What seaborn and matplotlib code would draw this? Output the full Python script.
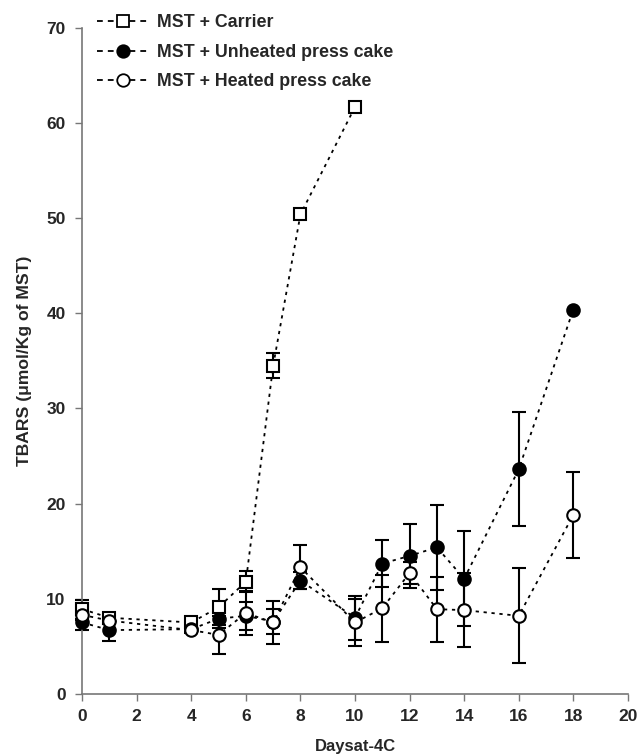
import numpy as np
import pandas as pd
import matplotlib
matplotlib.use("Agg")
import matplotlib.pyplot as plt
import seaborn as sns
from matplotlib.lines import Line2D

# ---- data ----
days_carrier = [0, 1, 4, 5, 6, 7, 8, 10]
tbars_carrier = [8.9, 8.0, 7.5, 9.1, 11.8, 34.5, 50.4, 61.7]
err_carrier = [1.0, 0.3, 0.2, 1.9, 1.1, 1.3, 0.0, 0.0]

days_cake = [0, 1, 4, 5, 6, 7, 8, 10, 11, 12, 13, 14, 16, 18]
tbars_unheated = [7.5, 6.7, 6.8, 7.9, 8.2, 7.6, 11.9, 8.0, 13.7, 14.5, 15.4, 12.1, 23.6, 40.4]
err_unheated = [0.8, 1.1, 0.3, 1.0, 1.5, 1.3, 0.9, 2.3, 2.5, 3.4, 4.5, 5.0, 6.0, 0.0]
tbars_heated = [8.3, 7.7, 6.7, 6.2, 8.5, 7.5, 13.3, 7.5, 9.0, 12.7, 8.9, 8.8, 8.2, 18.8]
err_heated = [0.5, 0.4, 0.3, 2.0, 2.3, 2.3, 2.3, 2.5, 3.5, 1.2, 3.4, 3.9, 5.0, 4.5]

labels = ["MST + Carrier", "MST + Unheated press cake", "MST + Heated press cake"]
x_ticks = list(range(0, 21, 2))
y_ticks = list(range(0, 71, 10))

sns.set_style("ticks")
plt.rcParams['font.family'] = ['Liberation Sans', 'DejaVu Sans']

fig = plt.figure(figsize=(6.42, 7.55), dpi=100)
ax = fig.add_axes([0.128, 0.081, 0.850, 0.882])

series = [
    (days_carrier, tbars_carrier, err_carrier, "s", "white"),
    (days_cake, tbars_unheated, err_unheated, "o", "black"),
    (days_cake, tbars_heated, err_heated, "o", "white"),
]
ls = (0, (1.8, 2.6))
handles = []
for (x, y, e, m, fc), lab in zip(series, labels):
    df = pd.DataFrame({"day": x, "tbars": y, "err": e})
    dfe = df[df["err"] > 0]
    eb = ax.errorbar(dfe["day"], dfe["tbars"], yerr=dfe["err"], fmt="none",
                     ecolor="black", elinewidth=1.5, capsize=5, capthick=1.5, zorder=2)
    for art in eb.lines[1] + eb.lines[2]:
        art.set_clip_on(False)
    ms = 9 if m == "o" else 8.5
    sns.lineplot(data=df, x="day", y="tbars", ax=ax, color="black",
                 linestyle=ls, linewidth=1.3, marker=m, markersize=ms,
                 markerfacecolor=fc, markeredgecolor="black", markeredgewidth=1.5,
                 zorder=3, legend=False, clip_on=False)
    handles.append(Line2D([], [], color="black", linestyle=(0, (3.2, 2.8)), linewidth=1.3,
                          marker=m, markersize=ms, markerfacecolor=fc,
                          markeredgecolor="black", markeredgewidth=1.3))

ax.set_xlim(0, 20)
ax.set_ylim(0, 70)
ax.set_xticks(x_ticks)
ax.set_yticks(y_ticks)
ax.tick_params(axis="both", direction="out", length=5, width=1, color="#777777",
               labelsize=12.5)
ax.tick_params(axis="x", pad=6)
ax.tick_params(axis="y", pad=7)
for lab in ax.get_xticklabels() + ax.get_yticklabels():
    lab.set_fontweight("bold")
for s in ["left", "bottom"]:
    ax.spines[s].set_color("#777777")
    ax.spines[s].set_linewidth(1.2)
sns.despine(ax=ax)

ax.set_xlabel("Daysat-4C", fontsize=12, fontweight="bold", labelpad=10.5)
ax.set_ylabel("TBARS (μmol/Kg of MST)", fontsize=12.6, fontweight="bold", labelpad=10)

fig.legend(handles, labels, loc="upper left", bbox_to_anchor=(0.1257, 1.002),
           frameon=False, prop={"weight": "bold", "size": 12.8}, handlelength=3.0,
           handletextpad=0.4, labelspacing=0.69, numpoints=1)

fig.savefig("out.png", dpi=100)
